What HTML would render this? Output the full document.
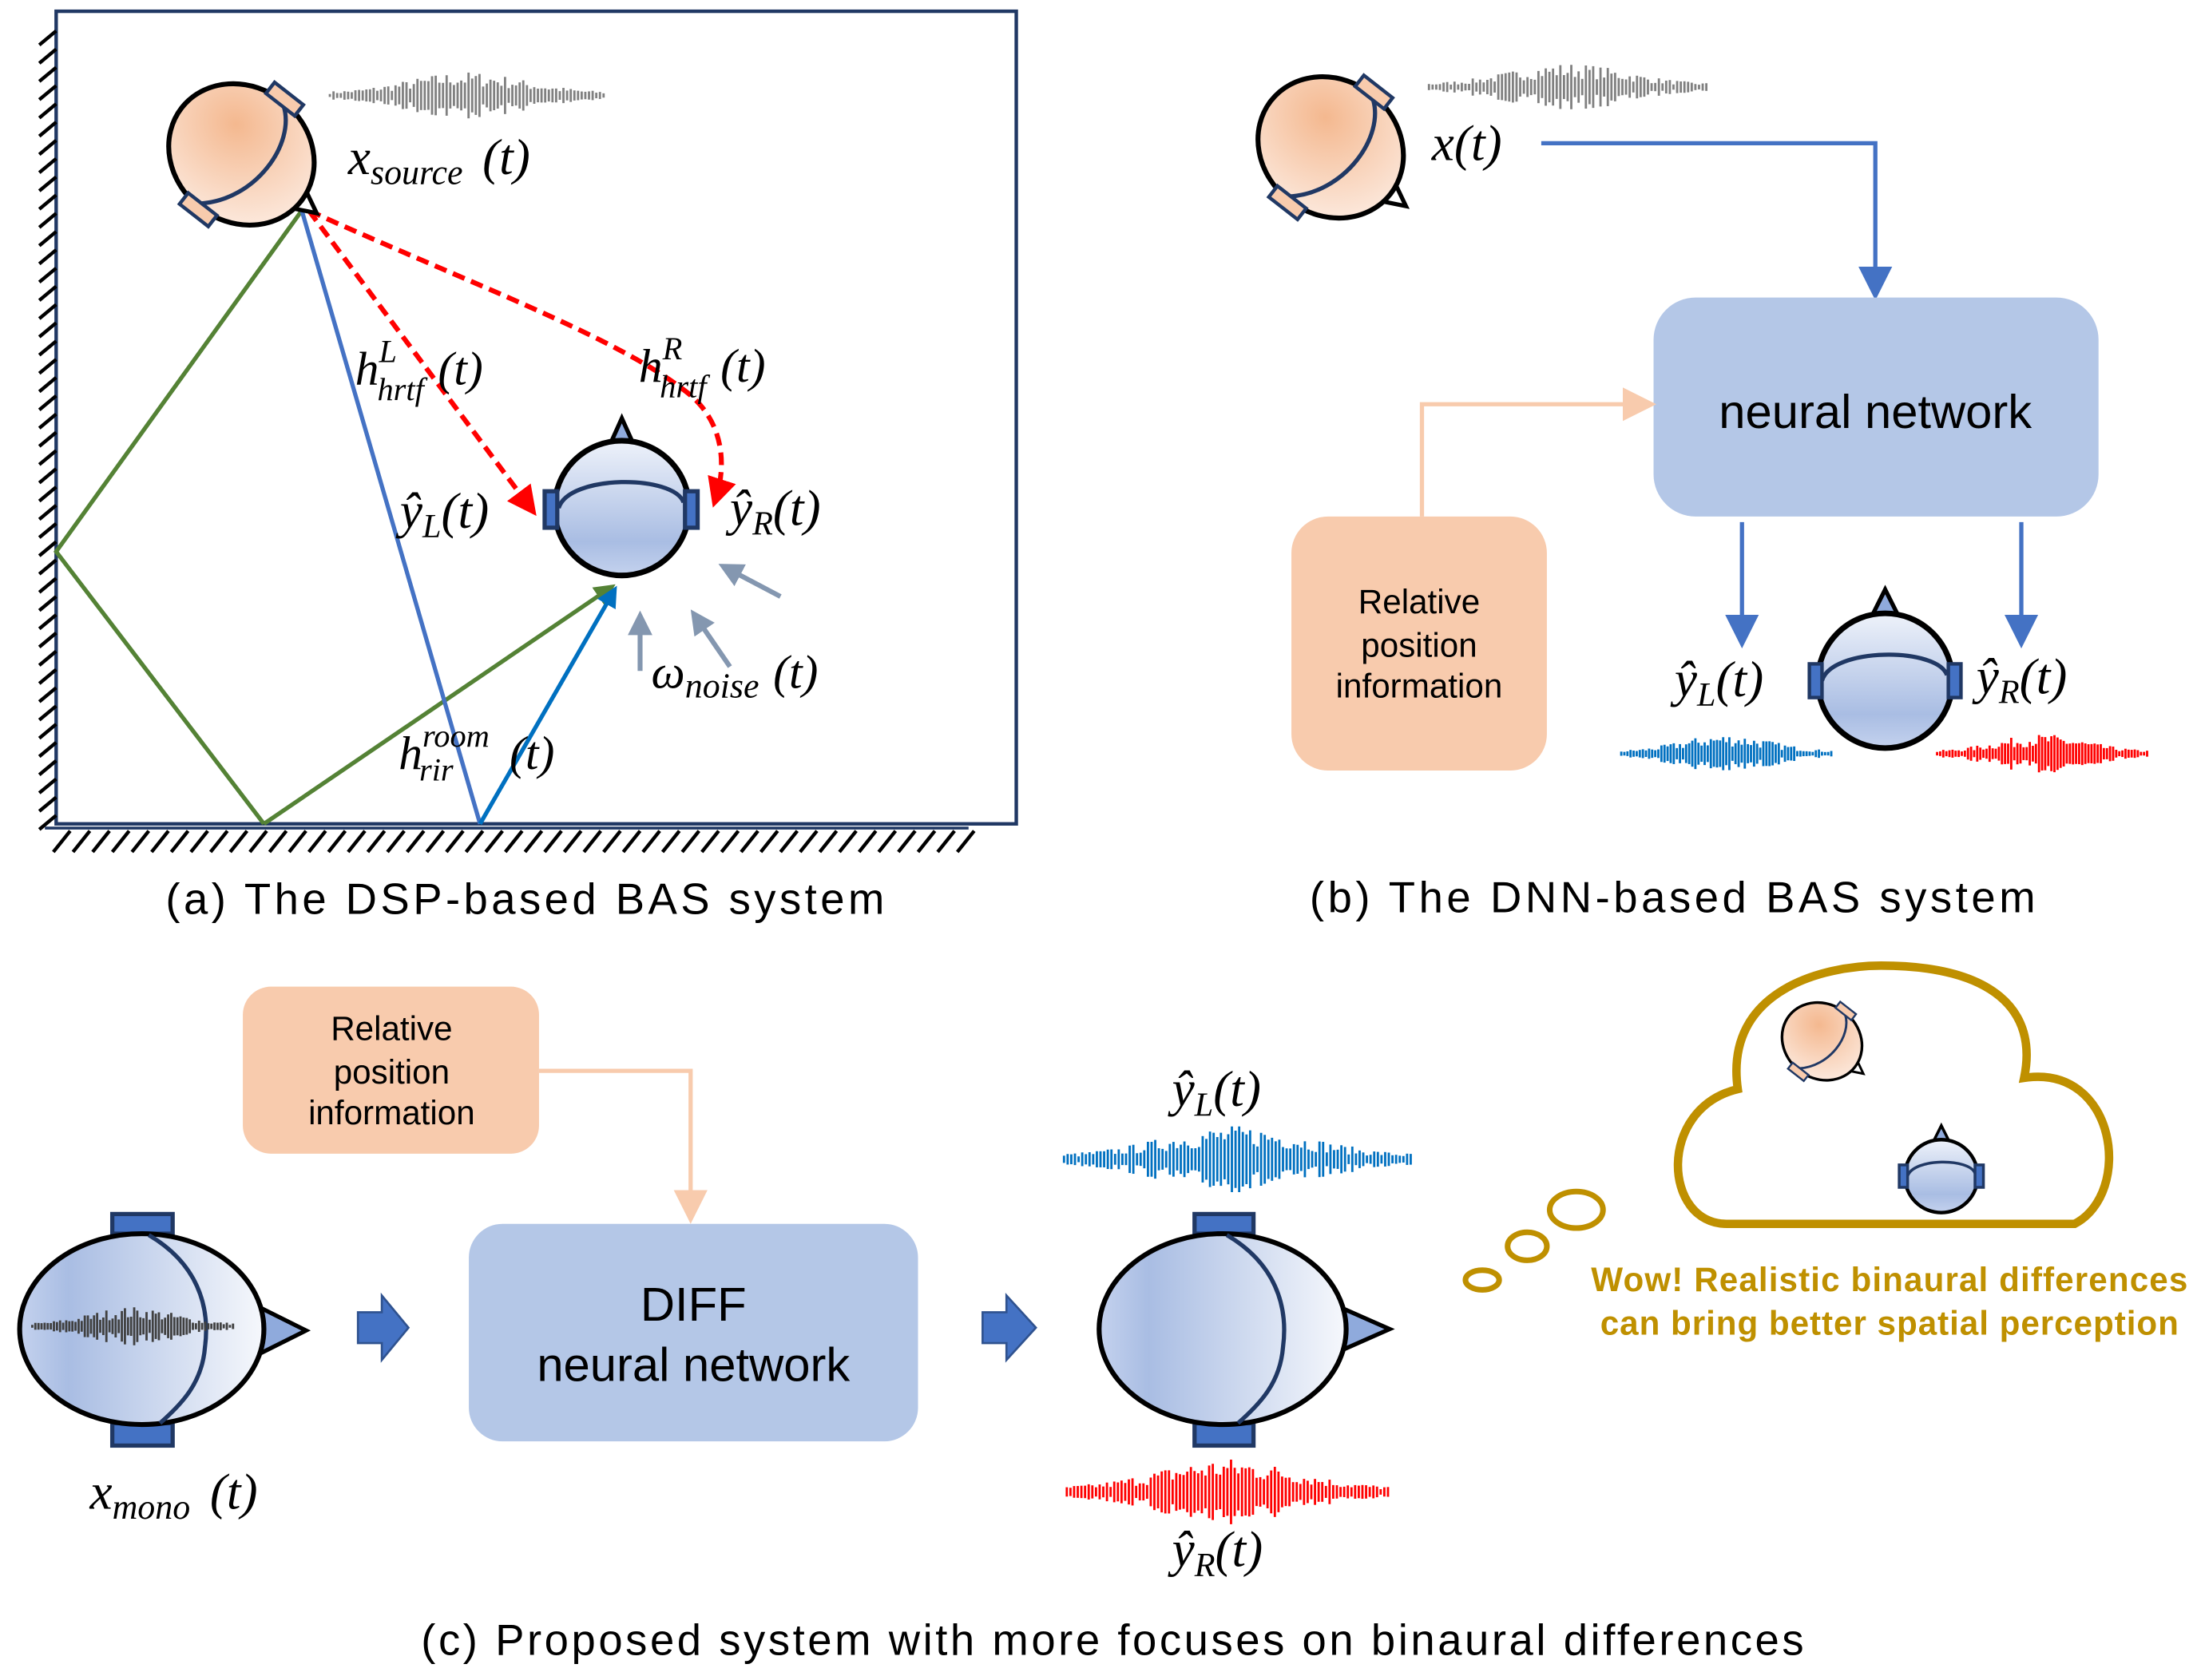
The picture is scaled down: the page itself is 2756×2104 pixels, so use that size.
<!DOCTYPE html>
<html><head><meta charset="utf-8"><style>
html,body{margin:0;padding:0;background:#fff}
svg{display:block}
.m{font-family:"Liberation Serif",serif;font-style:italic;fill:#000}
.s{font-family:"Liberation Sans",sans-serif;fill:#000}
</style></head><body>
<svg id="sv" width="2756" height="2104" viewBox="0 0 1568 1197" xmlns="http://www.w3.org/2000/svg">
<defs>
<radialGradient id="og" cx="0.35" cy="0.35" r="0.8"><stop offset="0" stop-color="#f4b88f"/><stop offset="1" stop-color="#fdeee5"/></radialGradient>
<linearGradient id="bg" x1="0" y1="0" x2="0" y2="1"><stop offset="0" stop-color="#eef2fa"/><stop offset="0.75" stop-color="#a9bde3"/><stop offset="1" stop-color="#c4d2ee"/></linearGradient>
<linearGradient id="bh" x1="0" y1="0" x2="1" y2="0"><stop offset="0" stop-color="#c4d2ee"/><stop offset="0.2" stop-color="#a9bde3"/><stop offset="1" stop-color="#f6f8fc"/></linearGradient>
<marker id="ar" markerWidth="8" markerHeight="8" refX="6" refY="4" orient="auto" markerUnits="strokeWidth"><path d="M0,0 L8,4 L0,8z" fill="#4472c4"/></marker>
<marker id="ao" markerWidth="8" markerHeight="8" refX="6" refY="4" orient="auto" markerUnits="strokeWidth"><path d="M0,0 L8,4 L0,8z" fill="#f8cbad"/></marker>
<marker id="ared" markerWidth="6" markerHeight="6" refX="4" refY="3" orient="auto" markerUnits="strokeWidth"><path d="M0,0 L6,3 L0,6z" fill="#f00"/></marker>
<marker id="agr" markerWidth="5" markerHeight="5" refX="4" refY="2.5" orient="auto" markerUnits="strokeWidth"><path d="M0,0 L5,2.5 L0,5z" fill="#548235"/></marker>
<marker id="abl" markerWidth="5" markerHeight="5" refX="4" refY="2.5" orient="auto" markerUnits="strokeWidth"><path d="M0,0 L5,2.5 L0,5z" fill="#0070c0"/></marker>
<marker id="agy" markerWidth="5" markerHeight="5" refX="3" refY="2.5" orient="auto" markerUnits="strokeWidth"><path d="M0,0 L5,2.5 L0,5z" fill="#8497b0"/></marker>
<g id="srchead">
<path d="M48,-10 L68,0 L48,10" fill="#fff" stroke="#000" stroke-width="3"/>
<ellipse cx="0" cy="0" rx="54" ry="48" fill="url(#og)" stroke="#000" stroke-width="3.5"/>
<path d="M2,-46 C26,-30 28,20 -2,46" fill="none" stroke="#203864" stroke-width="3"/>
<rect x="-13" y="-55" width="26" height="10" fill="#f8cbad" stroke="#203864" stroke-width="2.5"/>
<rect x="-13" y="45" width="26" height="10" fill="#f8cbad" stroke="#203864" stroke-width="2.5"/>
</g>
</defs>

<!-- Panel a -->
<rect x="40" y="8" width="684" height="579" fill="none" stroke="#203864" stroke-width="2.5"/>
<g id="hatchL" stroke="#000" stroke-width="3"></g>
<g id="hatchB" stroke="#000" stroke-width="3"></g>
<line x1="32" y1="590" x2="690" y2="590" stroke="#203864" stroke-width="2"/>

<polyline points="215,150 40,393 188,587" fill="none" stroke="#548235" stroke-width="3"/>
<line x1="188" y1="587" x2="436" y2="418" stroke="#548235" stroke-width="3" marker-end="url(#agr)"/>
<line x1="215" y1="150" x2="342" y2="587" stroke="#4472c4" stroke-width="3"/>
<line x1="342" y1="587" x2="438" y2="420" stroke="#0070c0" stroke-width="3" marker-end="url(#abl)"/>
<path d="M220,150 L378,362" fill="none" stroke="#f00" stroke-width="3.5" stroke-dasharray="9,5" marker-end="url(#ared)"/>
<path d="M220,150 C330,200 440,240 490,280 C515,300 518,330 510,355" fill="none" stroke="#f00" stroke-width="3.5" stroke-dasharray="9,5" marker-end="url(#ared)"/>
<line x1="556" y1="425" x2="518" y2="405" stroke="#8497b0" stroke-width="3.5" marker-end="url(#agy)"/>
<line x1="520" y1="475" x2="496" y2="440" stroke="#8497b0" stroke-width="3.5" marker-end="url(#agy)"/>
<line x1="456" y1="478" x2="456" y2="442" stroke="#8497b0" stroke-width="3.5" marker-end="url(#agy)"/>

<use href="#srchead" transform="translate(172,110) rotate(38)"/>
<g id="wa"></g>
<text class="m" x="248" y="124" font-size="36">x<tspan font-size="25" dy="7">source</tspan><tspan dy="-7" dx="14">(t)</tspan></text>

<!-- listener head a -->
<path d="M434,318 L443,298 L452,318z" fill="#8faadc" stroke="#000" stroke-width="3"/>
<circle cx="443" cy="362" r="48" fill="url(#bg)" stroke="#000" stroke-width="4"/>
<path d="M398,362 C405,338 480,338 487,358" fill="none" stroke="#203864" stroke-width="3"/>
<rect x="388" y="350" width="9" height="26" fill="#4472c4" stroke="#203864" stroke-width="3"/>
<rect x="488" y="350" width="9" height="26" fill="#4472c4" stroke="#203864" stroke-width="3"/>

<text class="m" x="253" y="274" font-size="34">h<tspan font-size="23" dx="0" dy="-16">L</tspan><tspan font-size="23" dx="-14" dy="27">hrtf</tspan><tspan dy="-11" dx="10">(t)</tspan></text>
<text class="m" x="455" y="272" font-size="34">h<tspan font-size="23" dx="0" dy="-16">R</tspan><tspan font-size="23" dx="-16" dy="27">hrtf</tspan><tspan dy="-11" dx="10">(t)</tspan></text>
<text class="m" x="285" y="376" font-size="36">ŷ<tspan font-size="24" dy="7">L</tspan><tspan dy="-7">(t)</tspan></text>
<text class="m" x="520" y="374" font-size="36">ŷ<tspan font-size="24" dy="7">R</tspan><tspan dy="-7">(t)</tspan></text>
<text class="m" x="464" y="490" font-size="34">ω<tspan font-size="25" dy="7">noise</tspan><tspan dy="-7" dx="10">(t)</tspan></text>
<text class="m" x="284" y="548" font-size="34">h<tspan font-size="23" dx="0" dy="-16">room</tspan><tspan font-size="23" dx="-50" dy="24">rir</tspan><tspan dy="-8" dx="40">(t)</tspan></text>
<text class="s" x="118" y="651" font-size="31" textLength="512" lengthAdjust="spacing">(a)  The DSP-based BAS system</text>

<!-- Panel b -->
<use href="#srchead" transform="translate(948,105) rotate(38)"/>
<g id="wb"></g>
<text class="m" x="1020" y="114" font-size="36">x(t)</text>
<polyline points="1098,102 1336,102 1336,208" fill="none" stroke="#4472c4" stroke-width="3" marker-end="url(#ar)"/>
<rect x="1178" y="212" width="317" height="156" rx="30" fill="#b4c7e7"/>
<text class="s" x="1336" y="305" font-size="34" text-anchor="middle">neural network</text>
<polyline points="1013,368 1013,288 1174,288" fill="none" stroke="#f8cbad" stroke-width="3" marker-end="url(#ao)"/>
<rect x="920" y="368" width="182" height="181" rx="26" fill="#f8cbad"/>
<text class="s" font-size="24" text-anchor="middle"><tspan x="1011" y="437">Relative</tspan><tspan x="1011" y="468">position</tspan><tspan x="1011" y="497">information</tspan></text>
<line x1="1241" y1="372" x2="1241" y2="456" stroke="#4472c4" stroke-width="3" marker-end="url(#ar)"/>
<line x1="1440" y1="372" x2="1440" y2="456" stroke="#4472c4" stroke-width="3" marker-end="url(#ar)"/>
<path d="M1334,438 L1343,420 L1352,438z" fill="#8faadc" stroke="#000" stroke-width="3"/>
<circle cx="1343" cy="485" r="48" fill="url(#bg)" stroke="#000" stroke-width="4"/>
<path d="M1298,485 C1305,461 1380,461 1387,481" fill="none" stroke="#203864" stroke-width="3"/>
<rect x="1289" y="473" width="9" height="24" fill="#4472c4" stroke="#203864" stroke-width="2.5"/>
<rect x="1388" y="473" width="9" height="24" fill="#4472c4" stroke="#203864" stroke-width="2.5"/>
<text class="m" x="1193" y="496" font-size="36">ŷ<tspan font-size="24" dy="7">L</tspan><tspan dy="-7">(t)</tspan></text>
<text class="m" x="1408" y="494" font-size="36">ŷ<tspan font-size="24" dy="7">R</tspan><tspan dy="-7">(t)</tspan></text>
<g id="wbl"></g><g id="wbr"></g>
<text class="s" x="933" y="650" font-size="31" textLength="517" lengthAdjust="spacing">(b)  The DNN-based BAS system</text>

<!-- Panel c -->
<rect x="173" y="703" width="211" height="119" rx="20" fill="#f8cbad"/>
<text class="s" font-size="24" text-anchor="middle"><tspan x="279" y="741">Relative</tspan><tspan x="279" y="772">position</tspan><tspan x="279" y="801">information</tspan></text>
<polyline points="384,763 492,763 492,866" fill="none" stroke="#f8cbad" stroke-width="3" marker-end="url(#ao)"/>
<rect x="334" y="872" width="320" height="155" rx="24" fill="#b4c7e7"/>
<text class="s" font-size="34" text-anchor="middle"><tspan x="494" y="941">DIFF</tspan><tspan x="494" y="984">neural network</tspan></text>

<!-- left big head -->
<path d="M186,932 L218,948 L186,964z" fill="#8faadc" stroke="#000" stroke-width="3"/>
<rect x="80" y="865" width="43" height="14" fill="#4472c4" stroke="#203864" stroke-width="3"/>
<rect x="80" y="1014" width="43" height="16" fill="#4472c4" stroke="#203864" stroke-width="3"/>
<ellipse cx="101" cy="947" rx="87" ry="68" fill="url(#bh)" stroke="#000" stroke-width="3.5"/>
<path d="M106,880 C140,900 150,930 146,960 C144,985 130,1000 114,1014" fill="none" stroke="#203864" stroke-width="3"/>
<g id="wc"></g>
<text class="m" x="64" y="1075" font-size="36">x<tspan font-size="25" dy="7">mono</tspan><tspan dy="-7" dx="14">(t)</tspan></text>

<path d="M255,935 L272,935 L272,923 L291,946 L272,969 L272,957 L255,957z" fill="#4472c4" stroke="#2f528f" stroke-width="1.5"/>
<path d="M700,935 L717,935 L717,923 L738,946 L717,969 L717,957 L700,957z" fill="#4472c4" stroke="#2f528f" stroke-width="1.5"/>

<!-- right big head -->
<path d="M956,932 L990,947 L956,962z" fill="#8faadc" stroke="#000" stroke-width="3"/>
<rect x="851" y="865" width="42" height="14" fill="#4472c4" stroke="#203864" stroke-width="3"/>
<rect x="851" y="1014" width="42" height="16" fill="#4472c4" stroke="#203864" stroke-width="3"/>
<ellipse cx="871" cy="947" rx="88" ry="68" fill="url(#bh)" stroke="#000" stroke-width="3.5"/>
<path d="M874,880 C908,900 918,930 914,960 C912,985 898,1000 882,1014" fill="none" stroke="#203864" stroke-width="3"/>
<g id="wcb"></g><g id="wcr"></g>
<text class="m" x="835" y="788" font-size="36">ŷ<tspan font-size="24" dy="7">L</tspan><tspan dy="-7">(t)</tspan></text>
<text class="m" x="835" y="1116" font-size="36">ŷ<tspan font-size="24" dy="7">R</tspan><tspan dy="-7">(t)</tspan></text>

<!-- cloud -->
<path d="M1230,872 C1185,872 1180,790 1238,776 C1228,705 1300,688 1340,688 C1420,688 1452,720 1442,768 C1508,758 1520,850 1478,872 Z" fill="#fff" stroke="#bf9000" stroke-width="6"/>
<ellipse cx="1123" cy="862" rx="19" ry="13" fill="none" stroke="#bf9000" stroke-width="4"/>
<ellipse cx="1088" cy="888" rx="14" ry="10" fill="none" stroke="#bf9000" stroke-width="4"/>
<ellipse cx="1056" cy="912" rx="12" ry="7" fill="none" stroke="#bf9000" stroke-width="4"/>
<use href="#srchead" transform="translate(1298,742) rotate(38) scale(0.55)"/>
<path d="M1378,812 L1383,802 L1388,812z" fill="#8faadc" stroke="#000" stroke-width="2"/>
<circle cx="1383" cy="838" r="26" fill="url(#bg)" stroke="#000" stroke-width="2.5"/>
<path d="M1359,838 C1363,825 1403,825 1407,836" fill="none" stroke="#203864" stroke-width="2"/>
<rect x="1353" y="830" width="6" height="16" fill="#4472c4" stroke="#203864" stroke-width="2"/>
<rect x="1407" y="830" width="6" height="16" fill="#4472c4" stroke="#203864" stroke-width="2"/>
<text class="s" font-size="24" font-weight="bold" style="fill:#bf9000" text-anchor="middle"><tspan x="1346" y="920" textLength="425" lengthAdjust="spacing">Wow! Realistic binaural differences</tspan><tspan x="1346" y="951" textLength="412" lengthAdjust="spacing">can bring better spatial perception</tspan></text>

<text class="s" x="300" y="1179" font-size="31" textLength="985" lengthAdjust="spacing">(c)  Proposed system with more focuses on binaural differences</text>
</svg>
<script>
(function(){
var NS="http://www.w3.org/2000/svg";
function ln(g,x1,y1,x2,y2,c,w){var l=document.createElementNS(NS,"line");l.setAttribute("x1",x1);l.setAttribute("y1",y1);l.setAttribute("x2",x2);l.setAttribute("y2",y2);l.setAttribute("stroke",c);l.setAttribute("stroke-width",w);g.appendChild(l);}
var hl=document.getElementById("hatchL");
for(var y=22;y<585;y+=13){ln(hl,28,y+10,40,y,"#000",2.5);}
var hb=document.getElementById("hatchB");
for(var x=38;x<684;x+=14){ln(hb,x,607,x+12,592,"#000",2.5);}
var seed=7;function rnd(){seed=(seed*16807)%2147483647;return seed/2147483647;}
function wave(id,x0,x1,cy,amp,c,step){var g=document.getElementById(id);var n=Math.floor((x1-x0)/step);for(var i=0;i<=n;i++){var t=i/n;var env=Math.exp(-Math.pow((t-0.5)/0.3,2));var a=amp*(0.12+0.88*env)*(0.35+0.65*rnd());ln(g,x0+i*step,cy-a,x0+i*step,cy+a,c,1.6);}}
wave("wa",235,432,68,17,"#808080",2.6);
wave("wb",1018,1218,62,17,"#808080",2.6);
wave("wbl",1155,1305,537,14,"#0070c0",2.2);
wave("wbr",1380,1530,537,14,"#f00",2.2);
wave("wc",23,168,945,14,"#404040",2.2);
wave("wcb",758,1005,826,24,"#0070c0",2.6);
wave("wcr",760,990,1063,24,"#f00",2.6);
})();
</script>
</body></html>
